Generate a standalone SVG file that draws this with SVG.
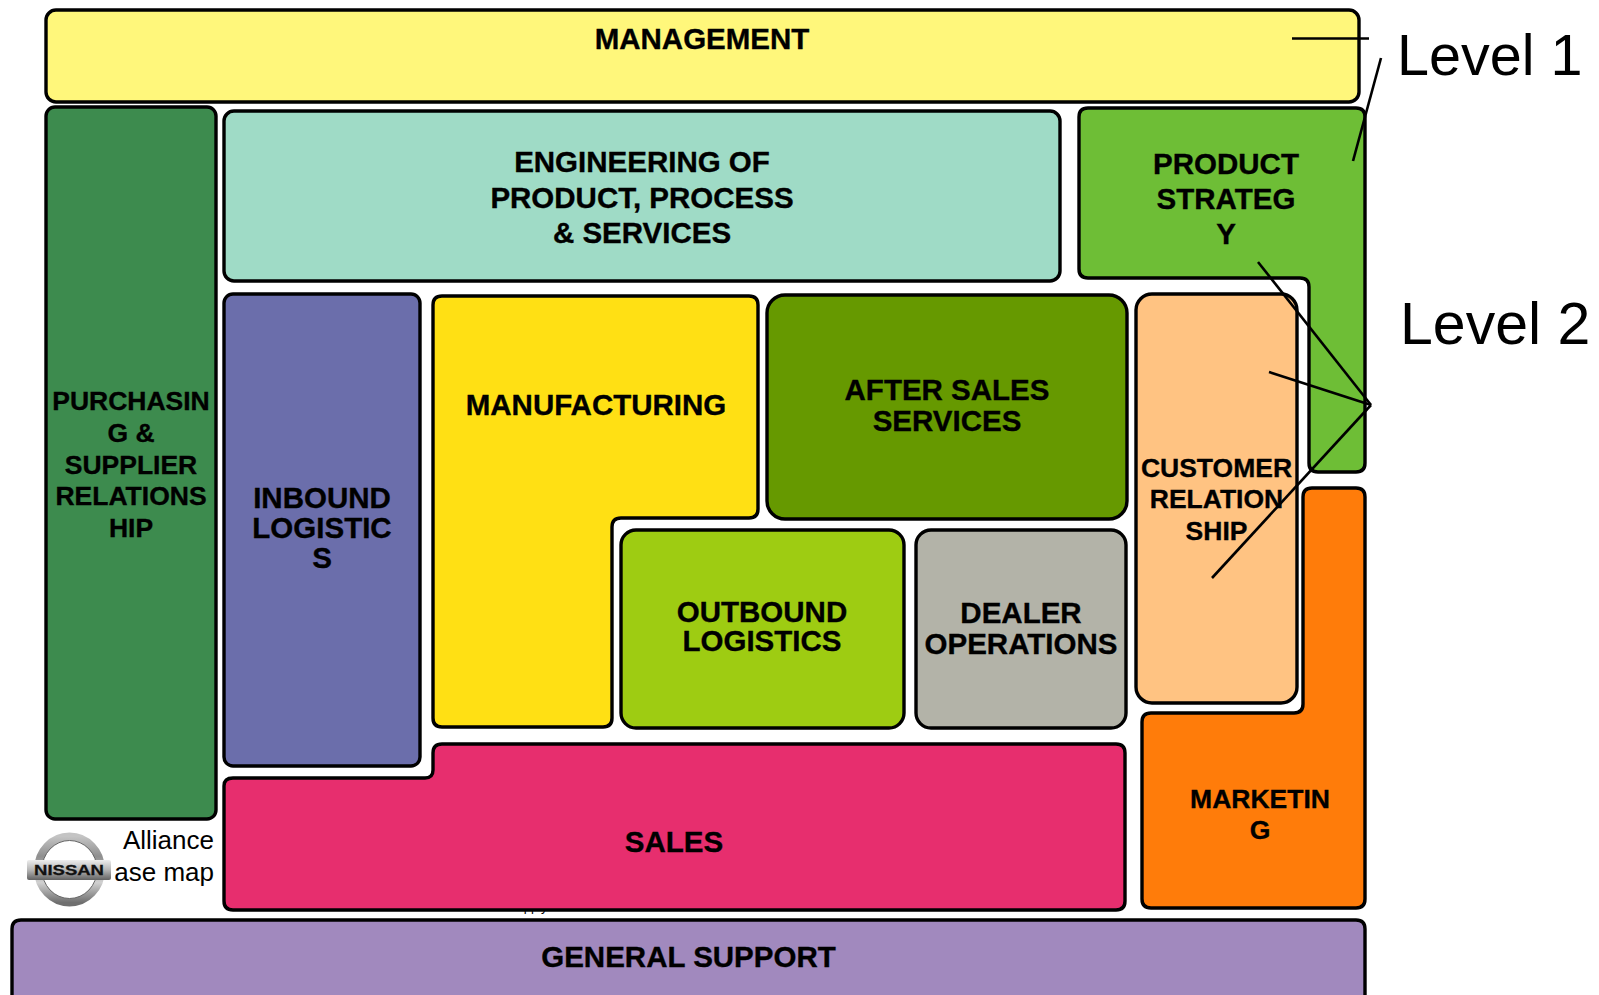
<svg xmlns="http://www.w3.org/2000/svg" width="1599" height="995" viewBox="0 0 1599 995">
<style>
.n{stroke:#000;stroke-width:3.4;stroke-linejoin:round}
.t{font-family:"Liberation Sans",Arial,sans-serif;font-weight:700;font-size:29.5px;text-anchor:middle;fill:#000;stroke:#000;stroke-width:.35}
.s{font-size:26.5px}
.c{stroke:#000;stroke-width:2.6;fill:none}
.l{font-family:"Liberation Sans",Arial,sans-serif;fill:#000}
</style>
<defs>
<linearGradient id="ring" x1="0" y1="0" x2="0" y2="1"><stop offset="0" stop-color="#c4c4c4"/><stop offset=".3" stop-color="#8f8f8f"/><stop offset=".7" stop-color="#d0d0d0"/><stop offset="1" stop-color="#6f6f6f"/></linearGradient>
<linearGradient id="bar" x1="0" y1="0" x2="0" y2="1"><stop offset="0" stop-color="#ededed"/><stop offset=".5" stop-color="#b5b5b5"/><stop offset="1" stop-color="#626262"/></linearGradient>
</defs>
<rect width="1599" height="995" fill="#fff"/>
<text class="l" x="510" y="910.500" font-size="13">supply</text>
<g id="management"><rect class="n" x="46" y="10" width="1313" height="92" rx="10" fill="#FFF77B"/><text class="t" x="702" y="49">MANAGEMENT</text></g>
<g id="purchasing"><rect class="n" x="46" y="107" width="170" height="712" rx="9" fill="#3D8B4E"/><text class="t s" x="131" y="410">PURCHASIN</text><text class="t s" x="131" y="442">G &amp;</text><text class="t s" x="131" y="474">SUPPLIER</text><text class="t s" x="131" y="505">RELATIONS</text><text class="t s" x="131" y="537">HIP</text></g>
<g id="engineering"><rect class="n" x="224" y="111" width="836" height="170" rx="10" fill="#9FDBC6"/><text class="t" x="642" y="172">ENGINEERING OF</text><text class="t" x="642" y="208">PRODUCT, PROCESS</text><text class="t" x="642" y="243">&amp; SERVICES</text></g>
<g id="product-strategy"><path class="n" d="M1088 108H1356Q1365 108 1365 117V463Q1365 472 1356 472H1318Q1309 472 1309 463V287Q1309 278 1300 278H1088Q1079 278 1079 269V117Q1079 108 1088 108Z" fill="#6EBE36"/><text class="t" x="1226" y="174">PRODUCT</text><text class="t" x="1226" y="209">STRATEG</text><text class="t" x="1226" y="244">Y</text></g>
<g id="inbound-logistics"><rect class="n" x="224" y="294" width="196" height="472" rx="9" fill="#6B6EAB"/><text class="t" x="322" y="508">INBOUND</text><text class="t" x="322" y="538">LOGISTIC</text><text class="t" x="322" y="568">S</text></g>
<g id="manufacturing"><path class="n" d="M442 296H749Q758 296 758 305V509Q758 518 749 518H621Q612 518 612 527V718Q612 727 603 727H442Q433 727 433 718V305Q433 296 442 296Z" fill="#FFE014"/><text class="t" x="596" y="415">MANUFACTURING</text></g>
<g id="after-sales"><rect class="n" x="767" y="295" width="360" height="224" rx="18" fill="#669900"/><text class="t" x="947" y="400">AFTER SALES</text><text class="t" x="947" y="431">SERVICES</text></g>
<g id="outbound-logistics"><rect class="n" x="621" y="530" width="283" height="198" rx="15" fill="#9ECC12"/><text class="t" x="762" y="622">OUTBOUND</text><text class="t" x="762" y="651">LOGISTICS</text></g>
<g id="dealer-operations"><rect class="n" x="916" y="530" width="210" height="198" rx="15" fill="#B3B3A8"/><text class="t" x="1021" y="623">DEALER</text><text class="t" x="1021" y="654">OPERATIONS</text></g>
<g id="customer-relationship"><rect class="n" x="1136" y="294" width="161" height="409" rx="16" fill="#FFC382"/><text class="t s" x="1216.500" y="477">CUSTOMER</text><text class="t s" x="1216.500" y="508">RELATION</text><text class="t s" x="1216.500" y="540">SHIP</text></g>
<g id="marketing"><path class="n" d="M1312 488H1356Q1365 488 1365 497V899Q1365 908 1356 908H1151Q1142 908 1142 899V722Q1142 713 1151 713H1294Q1303 713 1303 704V497Q1303 488 1312 488Z" fill="#FF7C0A"/><text class="t s" x="1260" y="808">MARKETIN</text><text class="t s" x="1260" y="839">G</text></g>
<g id="sales"><path class="n" d="M442 744H1116Q1125 744 1125 753V901Q1125 910 1116 910H233Q224 910 224 901V786Q224 778 233 778H425Q433 778 433 770V753Q433 744 442 744Z" fill="#E72E6E"/><text class="t" x="674" y="852">SALES</text></g>
<g id="general-support"><path class="n" d="M12 1000V929Q12 920 21 920H1356Q1365 920 1365 929V1000Z" fill="#A189BE"/><text class="t" x="688.500" y="967">GENERAL SUPPORT</text></g>
<g id="nissan-logo"><ellipse cx="69.500" cy="869.500" rx="31.500" ry="33" fill="none" stroke="url(#ring)" stroke-width="8"/><ellipse cx="69.500" cy="869.500" rx="27.500" ry="29" fill="none" stroke="#666" stroke-width="1"/><rect x="27" y="860" width="84" height="20" rx="2" fill="url(#bar)"/><text x="69" y="874.500" font-family="'Liberation Sans',Arial,sans-serif" font-weight="700" font-size="15.500" text-anchor="middle" fill="#111" stroke="#111" stroke-width=".3" textLength="70" lengthAdjust="spacingAndGlyphs">NISSAN</text></g>
<g id="alliance-note"><text class="l" x="214" y="849" font-size="26" text-anchor="end">Alliance</text><text class="l" x="214" y="881" font-size="26" text-anchor="end">ase map</text></g>
<g id="connectors"><path class="c" d="M1292 38.500H1369"/><path class="c" d="M1381 58L1353 161"/><path class="c" d="M1258 262L1371 405"/><path class="c" d="M1269 372L1371 405"/><path class="c" d="M1371 405L1212 578"/></g>
<g id="level-labels"><text class="l" x="1397" y="75" font-size="57.500">Level 1</text><text class="l" x="1400" y="344" font-size="59">Level 2</text></g>
</svg>
